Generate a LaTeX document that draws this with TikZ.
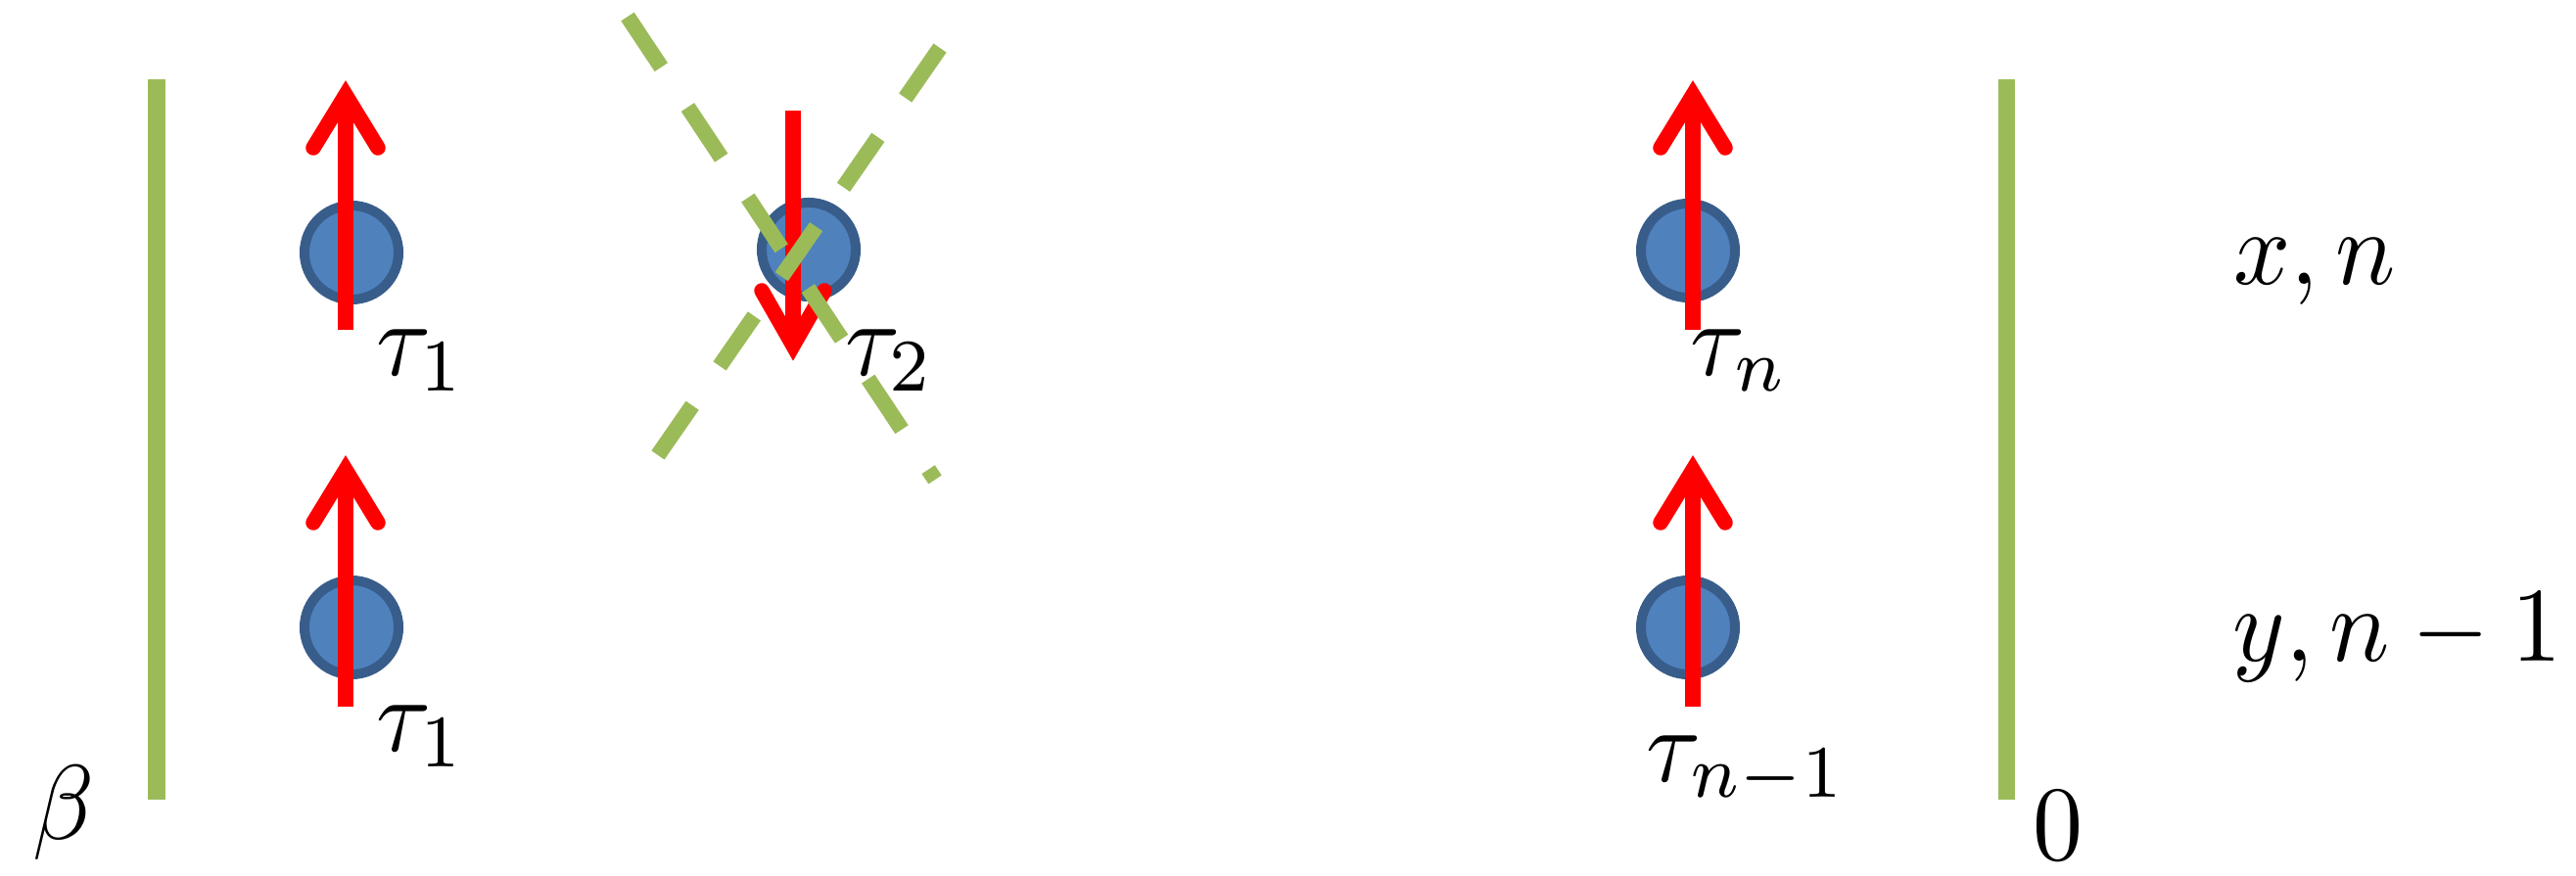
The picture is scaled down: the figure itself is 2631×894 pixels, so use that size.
\documentclass[tikz,border=0pt]{standalone}
\definecolor{grn}{HTML}{9BBB59}
\definecolor{blu}{HTML}{4F81BD}
\definecolor{bluedge}{HTML}{385D8A}
\newcommand\biglbl[1]{\scalebox{2.9}[3.08]{$#1$}}
\tikzset{
  spin/.style={draw=red, line width=0.155cm, line cap=butt},
  barb/.style={draw=red, line width=0.155cm, line cap=round, line join=miter},
  site/.style={circle, fill=blu, draw=bluedge, line width=0.1cm, minimum size=0.96cm, inner sep=0pt},
  wall/.style={draw=grn, line width=0.17cm},
  cut/.style={draw=grn, line width=0.16cm, dash pattern=on 0.62cm off 0.49cm},
  lbl/.style={inner sep=0pt, anchor=base west},
}
\begin{document}
\begin{tikzpicture}[x=0.01cm, y=-0.01cm]
\path[use as bounding box] (0,0) rectangle (2631,894);

% walls
\coordinate (w1t) at (160,81);  \coordinate (w1b) at (160,817);
\coordinate (w2t) at (2049,81); \coordinate (w2b) at (2049,817);
\draw[wall] (w1t) -- (w1b);
\draw[wall] (w2t) -- (w2b);

% sites
\node[site] (s1) at (359,258) {};
\node[site] (s2) at (359,641) {};
\node[site] (s3) at (826,255) {};
\node[site] (s4) at (1724,256) {};
\node[site] (s5) at (1724,641) {};

% spin up, upper left
\coordinate (a1b) at (353,337); \coordinate (a1t) at (353,100);
\draw[spin] (a1b) -- (a1t);
\draw[barb] (320,151) -- (353,97) -- (386,151);
% spin up, lower left
\coordinate (a2b) at (353,722); \coordinate (a2t) at (353,483);
\draw[spin] (a2b) -- (a2t);
\draw[barb] (320,534) -- (353,480) -- (386,534);
% spin up, upper right
\coordinate (a4b) at (1729,337); \coordinate (a4t) at (1729,100);
\draw[spin] (a4b) -- (a4t);
\draw[barb] (1696,151) -- (1729,97) -- (1762,151);
% spin up, lower right
\coordinate (a5b) at (1729,722); \coordinate (a5t) at (1729,483);
\draw[spin] (a5b) -- (a5t);
\draw[barb] (1696,534) -- (1729,480) -- (1762,534);
% spin down, middle
\coordinate (a3t) at (810,113); \coordinate (a3b) at (810,350);
\draw[spin] (a3t) -- (a3b);
\draw[barb] (778,297) -- (810,353) -- (842,297);

% crossing dashed lines
\coordinate (cA1) at (641,17);  \coordinate (cA2) at (955,490);
\coordinate (cB1) at (960,49);  \coordinate (cB2) at (672,465);
\draw[cut] (cA1) -- (cA2);
\draw[cut] (cB1) -- (cB2);

% labels
\node[lbl] (t1) at (384,383) {\biglbl{\tau_1}};
\node[lbl] (t1b) at (384,767) {\biglbl{\tau_1}};
\node[lbl] (t2) at (863,383) {\biglbl{\tau_2}};
\node[lbl] (tn) at (1726,383) {\biglbl{\tau_n}};
\node[lbl] (tn1) at (1681,798) {\biglbl{\tau_{n-1}}};
\node[lbl] (xn) at (2281,290) {\biglbl{x,n}};
\node[lbl] (yn) at (2280,675) {\biglbl{y,n-1}};
\node[lbl] (beta) at (33,857) {\biglbl{\beta}};
\node[lbl] (zero) at (2076,878) {\biglbl{0}};
\end{tikzpicture}
\end{document}
